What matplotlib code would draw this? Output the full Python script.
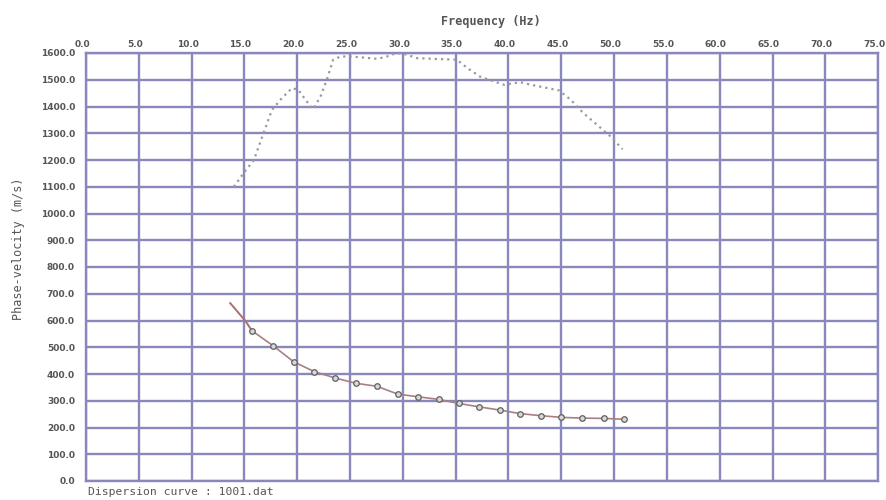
import matplotlib
matplotlib.use("Agg")
import matplotlib.pyplot as plt
import matplotlib.transforms as mtransforms
import numpy as np

# Dotted curve (grey)
dot_freq = [14.0, 14.9, 15.9, 16.8, 17.6, 18.4, 19.5, 20.1, 20.9, 21.5, 22.2, 22.8, 23.4, 24.1,
            25.0, 26.3, 27.6, 28.5, 29.4, 30.4, 31.3, 32.9, 35.1, 36.1, 37.3, 38.6, 39.6, 41.1,
            42.4, 43.7, 44.8, 45.9, 47.1, 48.4, 49.7, 50.8]
dot_vel = [1100, 1150, 1200, 1300, 1387, 1425, 1469, 1462, 1419, 1390, 1437, 1500, 1575, 1587,
           1587, 1583, 1578, 1587, 1600, 1594, 1581, 1578, 1575, 1544, 1512, 1494, 1481, 1491,
           1479, 1469, 1460, 1425, 1375, 1331, 1287, 1240]

# Solid dispersion curve with markers
head_freq = [13.65, 15.1, 15.7]
head_vel = [665, 598, 562]
disp_freq = [15.7, 17.7, 19.65, 21.6, 23.6, 25.6, 27.55, 29.5, 31.4, 33.4, 35.3, 37.25,
             39.2, 41.1, 43.1, 45.0, 47.0, 49.0, 50.9]
disp_vel = [562, 506, 446, 409, 385, 365, 354, 325, 315, 305, 290, 277,
            265, 252, 244, 238, 235, 234, 231]

x_ticks = np.arange(0, 75.1, 5.0)
y_ticks = np.arange(0, 1600.1, 100.0)

grid_col = "#8a87bd"
text_col = "#555555"

fig = plt.figure(figsize=(8.86, 5.0), dpi=100)
ax = fig.add_axes([0.0971, 0.038, 0.894, 0.856])
ax.set_xlim(0, 75)
ax.set_ylim(0, 1600)

ax.set_xticks(x_ticks)
ax.set_yticks(y_ticks)
ax.set_xticklabels([f"{v:.1f}" for v in x_ticks])
ax.set_yticklabels([f"{v:.1f}" for v in y_ticks])
ax.xaxis.tick_top()
ax.tick_params(axis="x", length=0, labelsize=6.5, labelcolor=text_col, pad=3)
ax.tick_params(axis="y", length=0, labelsize=6.5, labelcolor=text_col, pad=8)
shift = mtransforms.ScaledTranslation(-4 / 100, 0, fig.dpi_scale_trans)
for lab in ax.get_xticklabels():
    lab.set_fontweight("bold")
    lab.set_transform(lab.get_transform() + shift)
for lab in ax.get_yticklabels():
    lab.set_fontweight("bold")

ax.grid(True, color=grid_col, linewidth=1.7)
ax.set_axisbelow(True)
for s in ax.spines.values():
    s.set_color(grid_col)
    s.set_linewidth(1.7)

ax.plot(dot_freq, dot_vel, linestyle=(0, (1.0, 1.8)), color="#9a9a9a", linewidth=1.6, zorder=3)
ax.plot(head_freq, head_vel, color="#a87070", linewidth=1.4, zorder=3)
ax.plot(disp_freq, disp_vel, color="#a88080", linewidth=1.2, marker="o", markersize=4,
        markerfacecolor="#d8d8d8", markeredgecolor="#606060", markeredgewidth=0.9, zorder=4)

fig.text(0.554, 0.958, "Frequency (Hz)", ha="center", va="center", fontsize=8.5,
         family="DejaVu Sans Mono", fontweight="bold", color=text_col)
fig.text(0.021, 0.502, "Phase-velocity (m/s)", ha="center", va="center", rotation=90,
         fontsize=8.5, family="DejaVu Sans Mono", color=text_col)
fig.text(0.099, 0.016, "Dispersion curve : 1001.dat", ha="left", va="center", fontsize=8.2,
         family="DejaVu Sans Mono", color=text_col)

fig.savefig("out.png", dpi=100)
